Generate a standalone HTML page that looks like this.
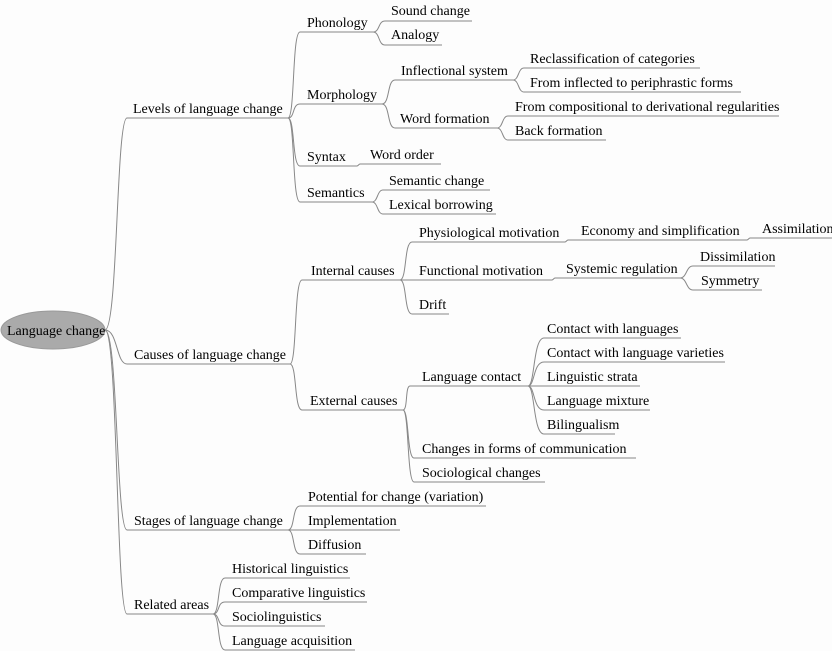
<!DOCTYPE html>
<html><head><meta charset="utf-8"><style>
html,body{margin:0;padding:0;background:#fdfdfd;}
svg{display:block;}
text{font-family:"Liberation Serif",serif;font-size:14px;fill:#000;}
.u{stroke:#888;stroke-width:1;fill:none;}
</style></head><body>
<svg width="832" height="651" viewBox="0 0 832 651">
<ellipse cx="53" cy="330" rx="52" ry="19" fill="#aaa" stroke="#999"/>
<text x="7" y="335">Language change</text>
<g class="u">
<path d="M105 330 C118 330 116 118 127 118"/>
<path d="M105 330 C118 330 116 364 127 364"/>
<path d="M105 330 C118 330 116 530 127 530"/>
<path d="M105 330 C118 330 116 614 127 614"/>
<path d="M127 118H288M127 364H290M127 530H288M127 614H213"/>
<path d="M300 32H373M300 104H382M300 166H357M300 202H372"/>
<path d="M385 21H472M385 45H442M395 80H513M395 128H497M360 164H441M383 190H490M383 214H496"/>
<path d="M524 68H700M524 92H741M508 116H779M508 140H606"/>
<path d="M302 280H400M302 410H403M412 242H565M412 280H552M412 314H449"/>
<path d="M568 240H747M750 238H832M555 278H680M693 266H775M693 290H762"/>
<path d="M410 386H528M414 458H636M414 482H545"/>
<path d="M544 338H681M544 362H725M540 386H640M544 410H650M544 434H615"/>
<path d="M300 506H486M300 530H400M300 554H366"/>
<path d="M225 578H350M225 602H367M225 626H325M225 650H355"/>
<path d="M288 118 C295 118 292 32 300 32"/>
<path d="M288 118 C295 118 292 104 300 104"/>
<path d="M288 118 C295 118 292 166 300 166"/>
<path d="M288 118 C295 118 292 202 300 202"/>
<path d="M373 32 C380 32 378 21 385 21"/>
<path d="M373 32 C380 32 378 45 385 45"/>
<path d="M382 104 C390 104 387 80 395 80"/>
<path d="M382 104 C390 104 387 128 395 128"/>
<path d="M357 166 C358 166 359 164 360 164"/>
<path d="M372 202 C378 202 377 190 383 190"/>
<path d="M372 202 C378 202 377 214 383 214"/>
<path d="M513 80 C519 80 518 68 524 68"/>
<path d="M513 80 C519 80 518 92 524 92"/>
<path d="M497 128 C503 128 502 116 508 116"/>
<path d="M497 128 C503 128 502 140 508 140"/>
<path d="M290 364 C297 364 294 280 302 280"/>
<path d="M290 364 C297 364 294 410 302 410"/>
<path d="M400 280 C407 280 404 242 412 242"/>
<path d="M400 280 H412"/>
<path d="M400 280 C407 280 404 314 412 314"/>
<path d="M565 242 C566 242 567 240 568 240"/>
<path d="M747 240 C748 240 749 238 750 238"/>
<path d="M552 280 C553 280 554 278 555 278"/>
<path d="M680 278 C687 278 686 266 693 266"/>
<path d="M680 278 C687 278 686 290 693 290"/>
<path d="M403 410 C408 410 405 386 410 386"/>
<path d="M403 410 C409 410 407 458 414 458"/>
<path d="M403 410 C409 410 407 482 414 482"/>
<path d="M528 386 C535 386 533 338 544 338"/>
<path d="M528 386 C535 386 533 362 544 362"/>
<path d="M528 386 H540"/>
<path d="M528 386 C535 386 533 410 544 410"/>
<path d="M528 386 C535 386 533 434 544 434"/>
<path d="M288 530 C295 530 292 506 300 506"/>
<path d="M288 530 H300"/>
<path d="M288 530 C295 530 292 554 300 554"/>
<path d="M213 614 C220 614 217 578 225 578"/>
<path d="M213 614 C220 614 217 602 225 602"/>
<path d="M213 614 C220 614 217 626 225 626"/>
<path d="M213 614 C220 614 217 650 225 650"/>
</g>
<text x="133" y="113">Levels of language change</text>
<text x="134" y="359">Causes of language change</text>
<text x="134" y="525">Stages of language change</text>
<text x="134" y="609">Related areas</text>
<text x="307" y="27">Phonology</text>
<text x="307" y="99">Morphology</text>
<text x="307" y="161">Syntax</text>
<text x="307" y="197">Semantics</text>
<text x="391" y="15">Sound change</text>
<text x="391" y="39">Analogy</text>
<text x="401" y="75">Inflectional system</text>
<text x="400" y="123">Word formation</text>
<text x="370" y="159">Word order</text>
<text x="389" y="185">Semantic change</text>
<text x="389" y="209">Lexical borrowing</text>
<text x="530" y="63">Reclassification of categories</text>
<text x="530" y="87">From inflected to periphrastic forms</text>
<text x="515" y="111">From compositional to derivational regularities</text>
<text x="515" y="135">Back formation</text>
<text x="311" y="275">Internal causes</text>
<text x="310" y="405">External causes</text>
<text x="419" y="237">Physiological motivation</text>
<text x="419" y="275">Functional motivation</text>
<text x="419" y="309">Drift</text>
<text x="581" y="235">Economy and simplification</text>
<text x="762" y="233">Assimilation</text>
<text x="566" y="273">Systemic regulation</text>
<text x="700" y="261">Dissimilation</text>
<text x="701" y="285">Symmetry</text>
<text x="422" y="381">Language contact</text>
<text x="422" y="453">Changes in forms of communication</text>
<text x="422" y="477">Sociological changes</text>
<text x="547" y="333">Contact with languages</text>
<text x="547" y="357">Contact with language varieties</text>
<text x="547" y="381">Linguistic strata</text>
<text x="547" y="405">Language mixture</text>
<text x="547" y="429">Bilingualism</text>
<text x="308" y="501">Potential for change (variation)</text>
<text x="308" y="525">Implementation</text>
<text x="308" y="549">Diffusion</text>
<text x="232" y="573">Historical linguistics</text>
<text x="232" y="597">Comparative linguistics</text>
<text x="232" y="621">Sociolinguistics</text>
<text x="232" y="645">Language acquisition</text>
</svg>
</body></html>
